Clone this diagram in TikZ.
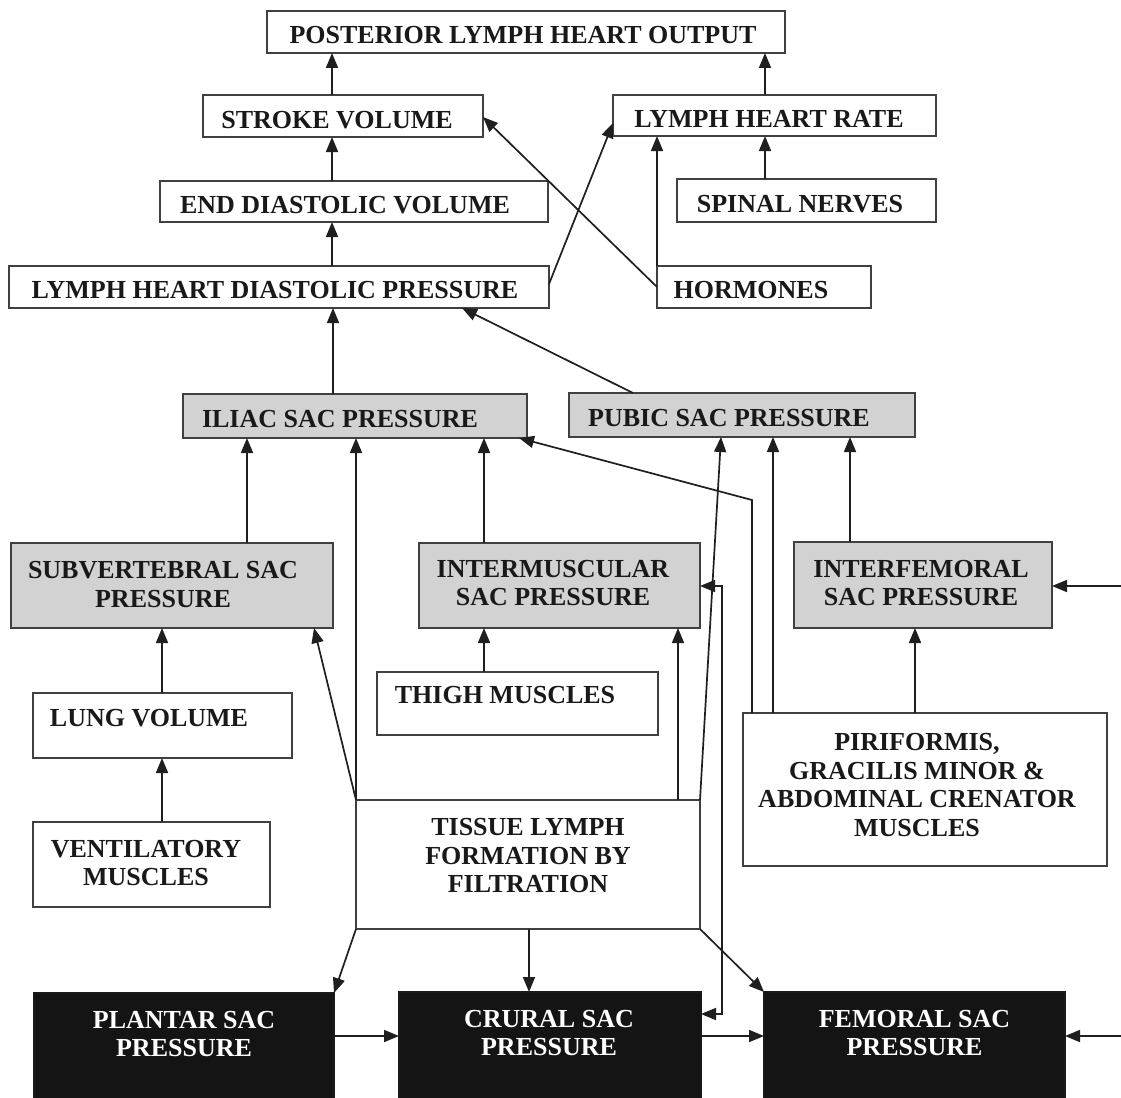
\documentclass[tikz,border=0pt]{standalone}
\usepackage{fontspec}
\setmainfont{Liberation Serif}
\usetikzlibrary{arrows.meta}
\newcommand\lbfont{\bfseries\fontsize{26}{28.5}\selectfont}
\newcommand\mkbox[6]{\node[#2, minimum width={(#5-#3)*1pt}, minimum height={(#6-#4)*1pt}] (#1) at ({(#3+#5)/2},{(#4+#6)/2}) {};}
\tikzset{
  basebox/.style={rectangle, inner sep=0pt, outer sep=0pt, line width=1.5pt},
  wbox/.style={basebox, draw=black!75, fill=white},
  gbox/.style={basebox, draw=black!75, fill=gray!35},
  kbox/.style={basebox, draw=black!90, fill=black!92},
  lbl/.style={font=\lbfont, align=center, inner sep=0pt, text=black!90},
  lblw/.style={lbl, text=white},
  tip/.tip={Triangle[length=15pt,width=12pt]},
  conn/.style={line width=1.7pt, draw=black!88, -tip},
  bidir/.style={line width=1.7pt, draw=black!88, tip-tip}
}
\begin{document}
\begin{tikzpicture}[x=1pt,y=-1pt]
\useasboundingbox (0,0) rectangle (1121,1097);
\clip (0,0) rectangle (1121,1097);
\fill[white] (0,0) rectangle (1121,1097);

% boxes
\mkbox{post}{wbox}{267}{11}{785}{53}
\mkbox{sv}{wbox}{203}{95}{483}{137}
\mkbox{lhr}{wbox}{613}{95}{936}{136}
\mkbox{edv}{wbox}{160}{181}{548}{222}
\mkbox{sn}{wbox}{677}{179}{936}{222}
\mkbox{lhdp}{wbox}{9}{266}{549}{308}
\mkbox{hor}{wbox}{657}{266}{871}{308}
\mkbox{iliac}{gbox}{183}{394}{527}{438}
\mkbox{pubic}{gbox}{569}{393}{915}{437}
\mkbox{subv}{gbox}{11}{543}{333}{628}
\mkbox{intm}{gbox}{419}{543}{700}{628}
\mkbox{intf}{gbox}{794}{542}{1052}{628}
\mkbox{lung}{wbox}{33}{693}{292}{758}
\mkbox{thigh}{wbox}{377}{672}{658}{735}
\mkbox{vent}{wbox}{33}{822}{270}{907}
\mkbox{tissue}{wbox}{356}{800}{700}{929}
\mkbox{pirif}{wbox}{743}{713}{1107}{866}
\mkbox{plantar}{kbox}{34}{993}{334}{1140}
\mkbox{crural}{kbox}{399}{992}{701}{1140}
\mkbox{femoral}{kbox}{764}{992}{1065}{1140}

% texts
\node[lbl] (postt) at (523,35) {POSTERIOR LYMPH HEART OUTPUT};
\node[lbl] (svt) at (337,120) {STROKE VOLUME};
\node[lbl] (lhrt) at (769,118.5) {LYMPH HEART RATE};
\node[lbl] (edvt) at (345,205) {END DIASTOLIC VOLUME};
\node[lbl] (snt) at (800,204) {SPINAL NERVES};
\node[lbl] (lhdpt) at (275,290) {LYMPH HEART DIASTOLIC PRESSURE};
\node[lbl] (hort) at (751,290) {HORMONES};
\node[lbl] (iliact) at (340,419) {ILIAC SAC PRESSURE};
\node[lbl] (pubict) at (729,418.5) {PUBIC SAC PRESSURE};
\node[lbl] (subvt) at (163,584.5) {SUBVERTEBRAL SAC\\PRESSURE};
\node[lbl] (intmt) at (553,583) {INTERMUSCULAR\\SAC PRESSURE};
\node[lbl] (intft) at (921,583) {INTERFEMORAL\\SAC PRESSURE};
\node[lbl] (lungt) at (149,718.5) {LUNG VOLUME};
\node[lbl] (thight) at (505,695) {THIGH MUSCLES};
\node[lbl] (ventt) at (146,863) {VENTILATORY\\MUSCLES};
\node[lbl] (tissuet) at (528,856) {TISSUE LYMPH\\FORMATION BY\\FILTRATION};
\node[lbl] (pirift) at (917,785) {PIRIFORMIS,\\GRACILIS MINOR \&\\ABDOMINAL CRENATOR\\MUSCLES};
\node[lblw] (plantart) at (184,1034) {PLANTAR SAC\\PRESSURE};
\node[lblw] (cruralt) at (549,1033) {CRURAL SAC\\PRESSURE};
\node[lblw] (femoralt) at (914.5,1033) {FEMORAL SAC\\PRESSURE};

% free ends
\coordinate (r1) at (1121,586);
\coordinate (r2) at (1121,1036);
\coordinate (bx) at (722,0);
\coordinate (pk) at (752,500);

% top chain
\draw[conn] (sv.north -| 332,0) -- (post.south -| 332,0);
\draw[conn] (lhr.north -| 765,0) -- (post.south -| 765,0);
\draw[conn] (edv.north -| 332,0) -- (sv.south -| 332,0);
\draw[conn] (sn.north -| 765,0) -- (lhr.south -| 765,0);
\draw[conn] (lhdp.north -| 332,0) -- (edv.south -| 332,0);
\draw[conn] (hor.north west) -- (lhr.south -| hor.north west);
\draw[conn] (hor.west) -- (sv.east |- 0,117);
\draw[conn] (lhdp.east |- 0,284) -- (lhr.west |- 0,123);
\draw[conn] (iliac.north -| 333,0) -- (lhdp.south -| 333,0);
\draw[conn] (pubic.north -| 633,0) -- (lhdp.south -| 462,0);

% into iliac
\draw[conn] (subv.north -| 247,0) -- (iliac.south -| 247,0);
\draw[conn] (tissue.north west) -- (iliac.south -| tissue.north west);
\draw[conn] (intm.north -| 484,0) -- (iliac.south -| 484,0);
\draw[conn] (pirif.north -| pk) -- (pk) -- (iliac.south -| 519,0);

% into pubic
\draw[conn] (tissue.north east) -- (pubic.south -| 721,0);
\draw[conn] (pirif.north -| 773,0) -- (pubic.south -| 773,0);
\draw[conn] (intf.north -| 850,0) -- (pubic.south -| 850,0);

% middle
\draw[conn] (lung.north -| 162,0) -- (subv.south -| 162,0);
\draw[conn] (vent.north -| 162,0) -- (lung.south -| 162,0);
\draw[conn] (tissue.north west) -- (subv.south -| 314,0);
\draw[conn] (thigh.north -| 484,0) -- (intm.south -| 484,0);
\draw[conn] (tissue.north -| 678,0) -- (intm.south -| 678,0);
\draw[bidir] (intm.east |- 0,586) -- (bx |- 0,586) |- (crural.east |- 0,1014);
\draw[conn] (pirif.north -| 915,0) -- (intf.south -| 915,0);
\draw[conn] (r1) -- (intf.east |- r1);

% bottom
\draw[conn] (tissue.south west) -- (plantar.north east);
\draw[conn] (tissue.south -| 529,0) -- (crural.north -| 529,0);
\draw[conn] (tissue.south east) -- (femoral.north west);
\draw[conn] (plantar.east |- 0,1036) -- (crural.west |- 0,1036);
\draw[conn] (crural.east |- 0,1036) -- (femoral.west |- 0,1036);
\draw[conn] (r2) -- (femoral.east |- r2);
\end{tikzpicture}
\end{document}
